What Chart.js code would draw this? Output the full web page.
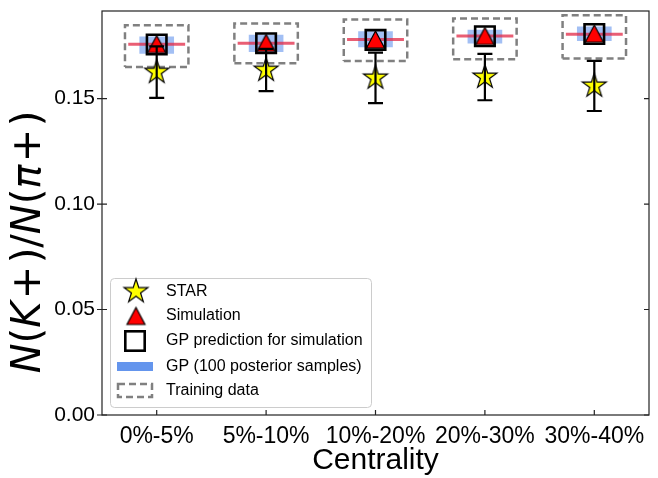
<!DOCTYPE html>
<html><head><meta charset="utf-8">
<script src="https://cdn.jsdelivr.net/npm/chart.js@4.4.0/dist/chart.umd.min.js"></script>
<style>html,body{margin:0;padding:0;background:#fff}#wrap{width:658px;height:478px}</style>
</head><body><div id="wrap"><canvas id="c" width="658" height="478"></canvas></div>
<script>
// ---------- data ----------
const categories = ['0%-5%', '5%-10%', '10%-20%', '20%-30%', '30%-40%'];
const yTicks = [0.00, 0.05, 0.10, 0.15];
const starVal = [0.1625, 0.1635, 0.1598, 0.1602, 0.1560];
const starErr = [0.0122, 0.0100, 0.0120, 0.0110, 0.0119];
const simVal  = [0.1758, 0.1764, 0.1780, 0.1797, 0.1808];
const gpVal   = [0.1756, 0.1762, 0.1778, 0.1795, 0.1806];
const meanVal = [0.1757, 0.1762, 0.1780, 0.1796, 0.1805];
const bandLo  = [0.1714, 0.1722, 0.1745, 0.1763, 0.1774];
const bandHi  = [0.1793, 0.1801, 0.1817, 0.1824, 0.1840];
const trainLo = [0.1649, 0.1667, 0.1678, 0.1686, 0.1690];
const trainHi = [0.1848, 0.1856, 0.1875, 0.1880, 0.1895];
const legendLabels = ['STAR', 'Simulation', 'GP prediction for simulation', 'GP (100 posterior samples)', 'Training data'];
const xTitle = 'Centrality';
const yTitleParts = [['N',1],['(',0],['K',1],['+',2],[')',0],['/',0],['N',1],['(',0],['\u03C0',1],['+',2],[')',0]];

// ---------- styles ----------
const BOX_HW = 0.29, MEAN_HW = 0.26;
const TXT = '"Liberation Sans", Arial, sans-serif';

function makeStar(R, fill, stroke, lw) {
  const s = Math.ceil(2 * R + lw * 2 + 4);
  const c = document.createElement('canvas'); c.width = s; c.height = s;
  const g = c.getContext('2d'); const cx = s / 2, cy = s / 2; const r = R * 0.381966;
  g.beginPath();
  for (let k = 0; k < 10; k++) {
    const rad = (k % 2) ? r : R; const a = -Math.PI / 2 + k * Math.PI / 5;
    const px = cx + rad * Math.cos(a), py = cy + rad * Math.sin(a);
    if (k) g.lineTo(px, py); else g.moveTo(px, py);
  }
  g.closePath(); g.fillStyle = fill; g.fill();
  g.lineWidth = lw; g.strokeStyle = stroke; g.lineJoin = 'miter'; g.stroke();
  return c;
}
function makeTri(w, h, fill, stroke, lw) {
  const s = Math.ceil(Math.max(w, h) + lw * 2 + 4);
  const c = document.createElement('canvas'); c.width = s; c.height = s;
  const g = c.getContext('2d'); const cx = s / 2, cy = s / 2;
  g.beginPath(); g.moveTo(cx, cy - h / 2); g.lineTo(cx + w / 2, cy + h / 2); g.lineTo(cx - w / 2, cy + h / 2); g.closePath();
  g.fillStyle = fill; g.fill(); g.lineWidth = lw; g.strokeStyle = stroke; g.lineJoin = 'miter'; g.stroke();
  return c;
}
const starImg = makeStar(12.5, '#ffff00', '#000', 1.2);
const triImg = makeTri(18, 17, '#ff0000', '#000', 1.2);

// ---------- derived chart data ----------
const boxData = [];
trainLo.forEach((lo, i) => {
  const hi = trainHi[i];
  boxData.push({x: i - BOX_HW, y: lo}, {x: i + BOX_HW, y: lo}, {x: i + BOX_HW, y: hi}, {x: i - BOX_HW, y: hi}, {x: i - BOX_HW, y: lo}, {x: i, y: null});
});
const meanData = [];
meanVal.forEach((v, i) => { meanData.push({x: i - MEAN_HW, y: v}, {x: i + MEAN_HW, y: v}, {x: i, y: null}); });
const bandData = bandLo.map((lo, i) => ({x: i, y: [lo, bandHi[i]]}));
const gpData = gpVal.map((v, i) => ({x: i, y: v}));
const simData = simVal.map((v, i) => ({x: i, y: v}));
const starData = starVal.map((v, i) => ({x: i, y: v}));

// ---------- plugins ----------
const errPlugin = {
  id: 'errbars',
  afterDatasetsDraw(chart) {
    const {ctx, scales: {x, y}} = chart;
    ctx.save(); ctx.strokeStyle = '#000'; ctx.lineWidth = 2.2; ctx.lineCap = 'butt';
    starVal.forEach((v, i) => {
      const px = x.getPixelForValue(i), p1 = y.getPixelForValue(v - starErr[i]), p2 = y.getPixelForValue(v + starErr[i]);
      ctx.beginPath(); ctx.moveTo(px, p1); ctx.lineTo(px, p2);
      ctx.moveTo(px - 7.5, p1); ctx.lineTo(px + 7.5, p1);
      ctx.moveTo(px - 7.5, p2); ctx.lineTo(px + 7.5, p2); ctx.stroke();
    });
    // frame & ticks
    const a = chart.chartArea;
    ctx.strokeStyle = '#222'; ctx.lineWidth = 1.2;
    ctx.strokeRect(a.left, a.top, a.right - a.left, a.bottom - a.top);
    ctx.beginPath();
    yTicks.forEach(t => { const py = y.getPixelForValue(t); ctx.moveTo(a.left - 5, py); ctx.lineTo(a.left + 5, py); ctx.moveTo(a.right - 5, py); ctx.lineTo(a.right, py); });
    categories.forEach((c, i) => { const px = x.getPixelForValue(i); ctx.moveTo(px, a.bottom); ctx.lineTo(px, a.bottom - 5); });
    ctx.stroke();
    ctx.restore();
  }
};
const yTitlePlugin = {
  id: 'ytitle',
  afterDraw(chart) {
    const ctx = chart.ctx; ctx.save();
    const fs = 40;
    const up = fs + 'px "DejaVu Sans", sans-serif', it = 'italic ' + fs + 'px "DejaVu Sans", sans-serif';
    const pad = 0.06 * fs;
    let total = 0; const ws = yTitleParts.map(([t, i]) => { ctx.font = i === 1 ? it : up; const w = ctx.measureText(t).width + (i === 2 ? 2 * pad : 0); total += w; return w; });
    ctx.translate(30, 242); ctx.rotate(-Math.PI / 2);
    ctx.fillStyle = '#000'; ctx.textBaseline = 'middle'; ctx.textAlign = 'left';
    let cx = -total / 2;
    yTitleParts.forEach(([t, i], k) => { ctx.font = i === 1 ? it : up; ctx.fillText(t, cx + (i === 2 ? pad : 0), 0); cx += ws[k]; });
    ctx.restore();
  }
};
const legendPlugin = {
  id: 'inlegend',
  afterDraw(chart) {
    const ctx = chart.ctx; ctx.save();
    ctx.beginPath(); ctx.roundRect(110.5, 278.5, 261, 129, 4);
    ctx.fillStyle = 'rgba(255,255,255,0.8)'; ctx.fill(); ctx.strokeStyle = '#cccccc'; ctx.lineWidth = 1; ctx.stroke();
    const rows = [291.5, 316, 341, 366.5, 390.5];
    ctx.drawImage(starImg, 136 - starImg.width / 2, rows[0] - starImg.height / 2);
    ctx.drawImage(triImg, 136 - triImg.width / 2, rows[1] - triImg.height / 2);
    ctx.strokeStyle = '#000'; ctx.lineWidth = 2.6; ctx.strokeRect(135 - 9.7, rows[2] - 9.7, 19.4, 19.4);
    ctx.fillStyle = '#6495ED'; ctx.fillRect(117, rows[3] - 4.5, 36, 9);
    ctx.strokeStyle = '#808080'; ctx.lineWidth = 2.5; ctx.setLineDash([7, 4]); ctx.strokeRect(118, rows[4] - 6.5, 34, 13); ctx.setLineDash([]);
    ctx.fillStyle = '#000'; ctx.font = '16px ' + TXT; ctx.textBaseline = 'middle'; ctx.textAlign = 'left';
    legendLabels.forEach((l, k) => ctx.fillText(l, 166, rows[k]));
    ctx.restore();
  }
};

// ---------- chart ----------
new Chart(document.getElementById('c'), {
  type: 'scatter',
  data: {
    datasets: [
      {label: legendLabels[0], data: starData, pointStyle: starImg, pointRadius: 12, order: 1},
      {label: legendLabels[1], data: simData, pointStyle: triImg, pointRadius: 10, order: 2},
      {label: legendLabels[2], data: gpData, pointStyle: 'rect', pointRadius: 13.8, pointBorderWidth: 2.6, borderColor: '#000', backgroundColor: 'rgba(0,0,0,0)', order: 3},
      {label: 'GP mean', type: 'line', data: meanData, borderColor: 'rgba(226,40,70,0.75)', borderWidth: 3, pointRadius: 0, spanGaps: false, order: 4},
      {label: legendLabels[3], type: 'bar', data: bandData, backgroundColor: 'rgba(100,149,237,0.6)', borderWidth: 0, barThickness: 34, order: 5},
      {label: legendLabels[4], type: 'line', data: boxData, borderColor: '#808080', borderWidth: 2.5, borderDash: [7, 4], borderJoinStyle: 'miter', borderCapStyle: 'butt', pointRadius: 0, spanGaps: false, order: 6}
    ]
  },
  options: {
    responsive: false, animation: false, devicePixelRatio: 1, events: [],
    layout: {autoPadding: false, padding: {left: 0, right: 9, top: 11, bottom: 0}},
    plugins: {legend: {display: false}, tooltip: {enabled: false}},
    scales: {
      x: {
        type: 'linear', min: -0.5, max: 4.5, offset: false,
        afterBuildTicks: s => { s.ticks = categories.map((c, i) => ({value: i})); },
        afterFit: s => { s.height = 63; s.paddingLeft = 0; s.paddingRight = 0; },
        ticks: {callback: v => categories[v], color: '#000', font: {family: TXT, size: 23}, padding: 8, maxRotation: 0, autoSkip: false},
        grid: {display: false, drawTicks: false, offset: false}, border: {display: false},
        title: {display: true, text: xTitle, color: '#000', font: {family: TXT, size: 30, lineHeight: 1}, padding: {top: 0, bottom: 2}}
      },
      y: {
        type: 'linear', min: 0, max: 0.1915,
        afterBuildTicks: s => { s.ticks = yTicks.map(v => ({value: v})); },
        afterFit: s => { s.width = 102; s.paddingTop = 0; s.paddingBottom = 0; },
        ticks: {callback: v => v.toFixed(2), color: '#000', font: {family: TXT, size: 21}, padding: 7},
        grid: {display: false, drawTicks: false}, border: {display: false}
      }
    }
  },
  plugins: [errPlugin, yTitlePlugin, legendPlugin]
});
</script></body></html>
